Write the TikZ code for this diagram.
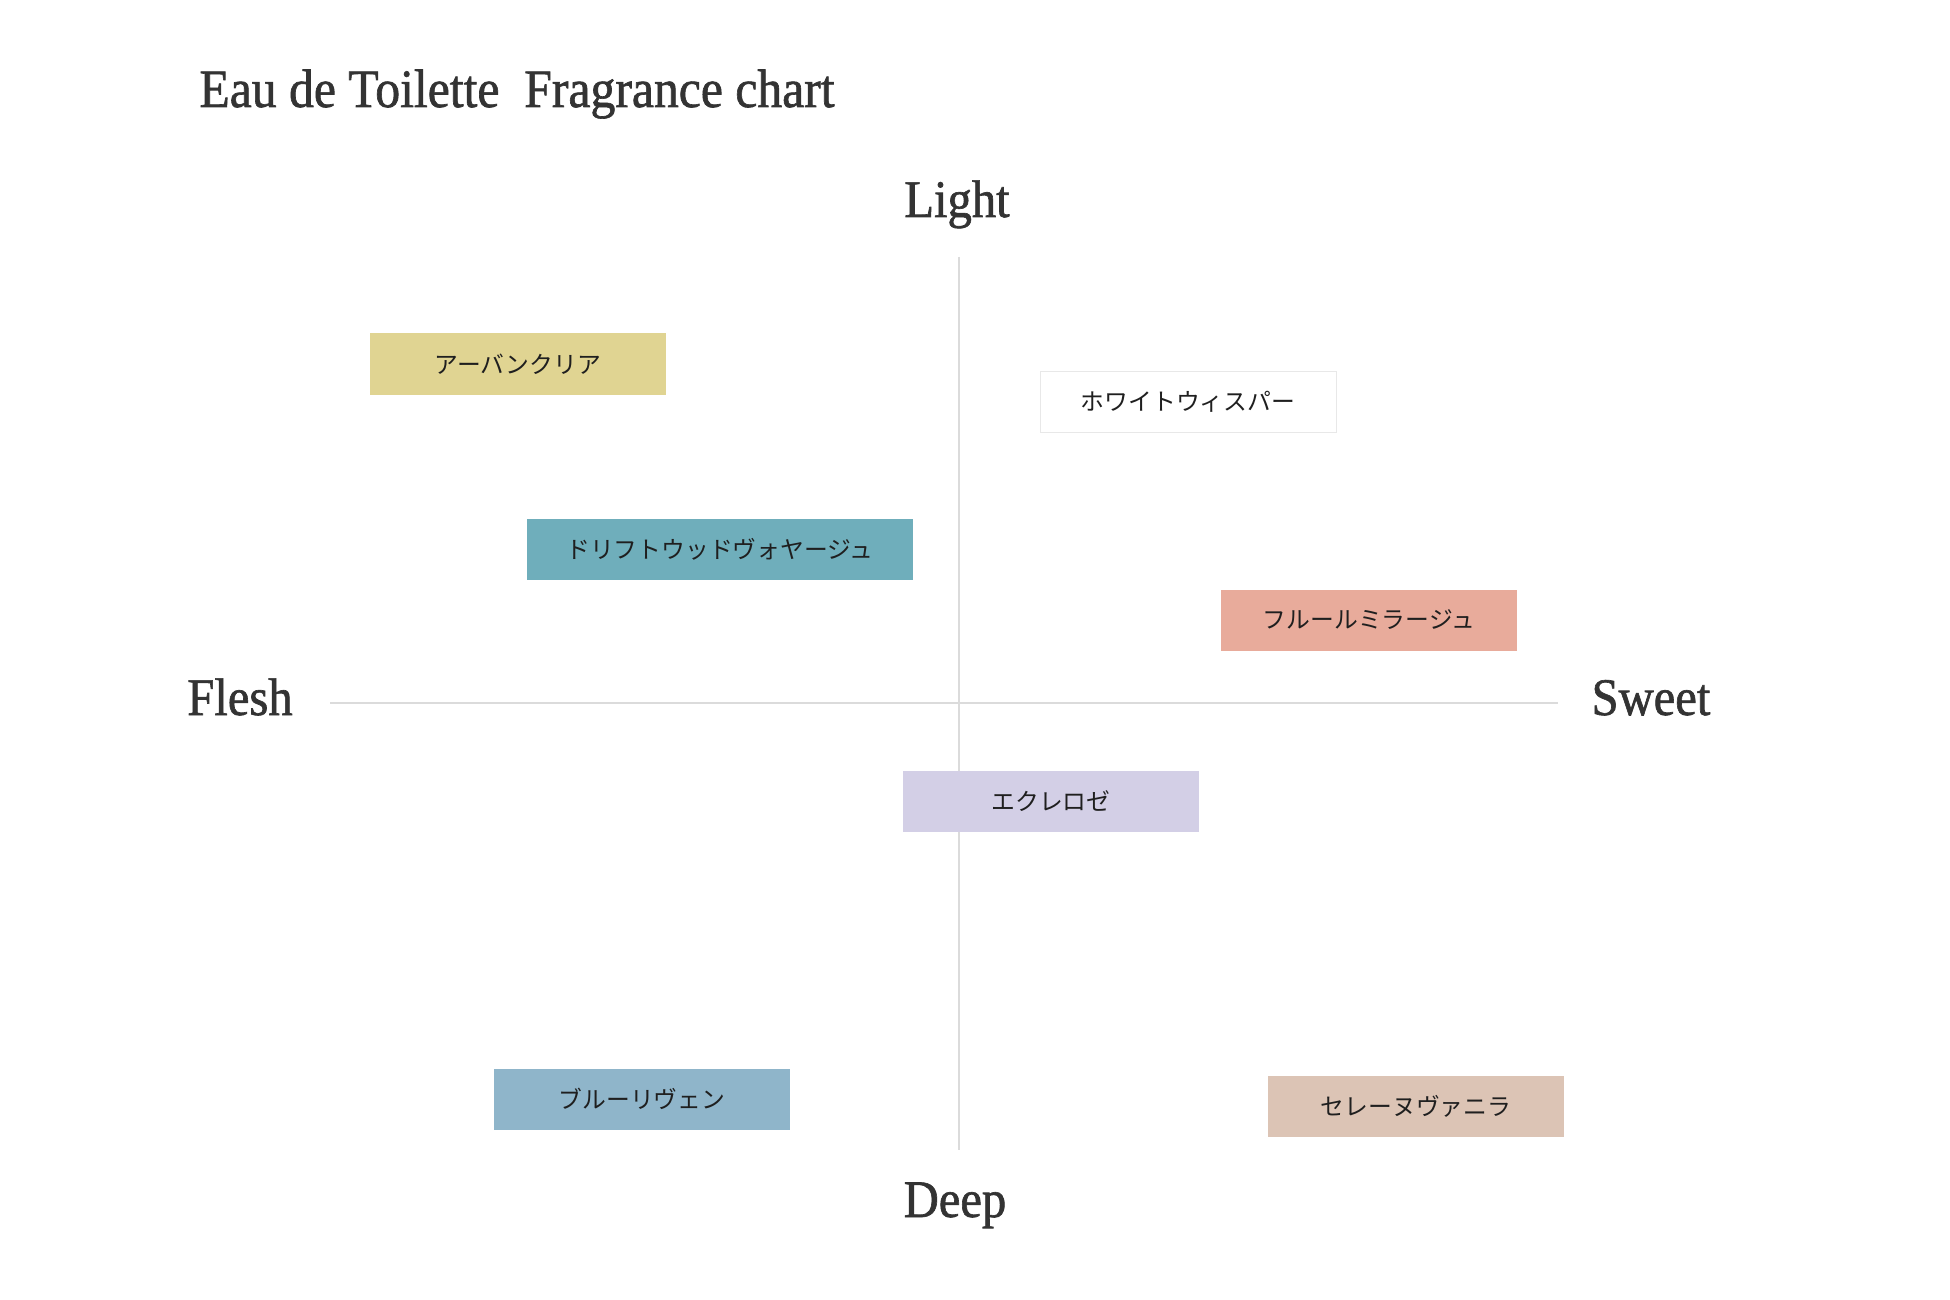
\documentclass[tikz,border=0pt]{standalone}
\usepackage{fontspec}
\setmainfont{Liberation Serif}[FakeStretch=0.92, FakeBold=1.2]
\newfontfamily\jpfont{Noto Sans CJK JP}
\usetikzlibrary{positioning}

\tikzset{
  chip/.style={minimum width=148pt, minimum height=30.5pt, inner sep=0pt,
    font=\jpfont\fontsize{11.9pt}{13pt}\selectfont, text=black!88},
  pole/.style={font=\fontsize{26.4pt}{30pt}\selectfont, text=inkcol, inner sep=0pt}
}

\begin{document}
\begin{tikzpicture}[x=0.5pt, y=-0.5pt]
  % Fixed frame, 1px = 0.5pt
  \path[use as bounding box] (0,0) rectangle (1950,1300);

  % Colors.
  \colorlet{inkcol}{black!80}
  \colorlet{axiscol}{black!14}
  \definecolor{urbancol}{RGB}{224,212,146}
  \definecolor{driftcol}{RGB}{111,174,187}
  \definecolor{fleurcol}{RGB}{232,171,155}
  \definecolor{eclatcol}{RGB}{211,207,230}
  \definecolor{bluecol}{RGB}{143,181,202}
  \definecolor{vanilcol}{RGB}{220,196,181}

  % Title.
  \node[pole, anchor=base west, font=\fontsize{27pt}{30pt}\selectfont] (title) at (199,107) {Eau de Toilette\ \ Fragrance chart};

  % Axis ends.
  \coordinate (top) at (959,257);
  \coordinate (bottom) at (959,1150);
  \coordinate (left) at (330,703);
  \coordinate (right) at (1558,703);

  % Axes.
  \draw[axiscol, line width=0.6pt] (top) -- (bottom);
  \draw[axiscol, line width=0.6pt] (left) -- (right);

  % Pole labels.
  \node[pole, anchor=base] (light) at (957,217) {Light};
  \node[pole, anchor=base] (deep) at (955,1217) {Deep};
  \node[pole, anchor=base] (flesh) at (240,715) {Flesh};
  \node[pole, anchor=base] (sweet) at (1651,715) {Sweet};

  % Fragrances.
  \node[chip, fill=urbancol] (urban) at (518,364) {アーバンクリア};
  \node[chip, fill=white, draw=black!9, line width=0.5pt] (white) at (1188,402) {ホワイトウィスパー};
  \node[chip, fill=driftcol, minimum width=193pt] (drift) at (720,549) {ドリフトウッドヴォヤージュ};
  \node[chip, fill=fleurcol] (fleur) at (1369,620) {フルールミラージュ};
  \node[chip, fill=eclatcol] (eclat) at (1051,801) {エクレロゼ};
  \node[chip, fill=bluecol] (blue) at (642,1099) {ブルーリヴェン};
  \node[chip, fill=vanilcol] (vanil) at (1416,1106) {セレーヌヴァニラ};
\end{tikzpicture}
\end{document}
